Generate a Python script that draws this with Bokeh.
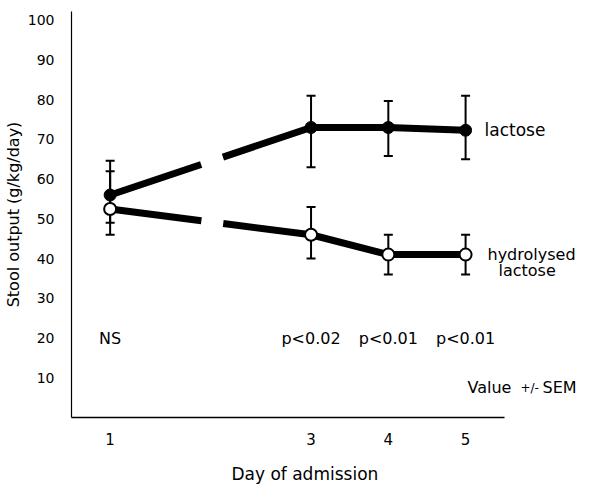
from bokeh.plotting import figure
from bokeh.models import FactorRange, Range1d, ColumnDataSource, Whisker, TeeHead, Label
from bokeh.core.properties import value
from bokeh.embed import file_html
from bokeh.resources import INLINE

# ---- data ----
days = ["1", "3", "4", "5"]
phase = ["admission", "later", "later", "later"]   # axis break between day 1 and day 3
lactose = [56.0, 73.0, 73.0, 72.3]
lactose_lo = [49.0, 63.0, 65.8, 65.0]
lactose_hi = [62.0, 81.0, 79.7, 81.0]
hydrolysed = [52.5, 46.0, 41.0, 41.0]
hydrolysed_lo = [46.0, 40.0, 36.0, 36.0]
hydrolysed_hi = [64.6, 53.0, 46.0, 46.0]
significance = ["NS", "p<0.02", "p<0.01", "p<0.01"]
y_ticks = [10, 20, 30, 40, 50, 60, 70, 80, 90, 100]

FONT = "DejaVu Sans"
x = list(zip(phase, days))
# an empty trailing slot gives room inside the frame for the right-hand labels
factors = x + [("later", "")]

p = figure(width=589, height=486,
           x_range=FactorRange(factors=factors, group_padding=1.6, range_padding=0),
           y_range=Range1d(0, 102.2),
           output_backend="svg", toolbar_location=None,
           min_border_left=63, min_border_right=8, min_border_top=11, min_border_bottom=64)
p.xgrid.grid_line_color = None
p.ygrid.grid_line_color = None
p.outline_line_color = None
p.background_fill_color = "white"
p.border_fill_color = "white"

# axes
p.yaxis.ticker = y_ticks
p.yaxis.minor_tick_line_color = None
p.yaxis.major_tick_line_color = None
p.yaxis.major_tick_out = 0
p.yaxis.major_tick_in = 0
p.yaxis.major_label_standoff = 17
p.yaxis.major_label_text_font = FONT
p.yaxis.major_label_text_font_size = "14px"
p.yaxis.major_label_text_color = "black"
p.yaxis.axis_line_color = "black"
p.yaxis.axis_line_width = 1.2
p.yaxis.axis_label = "Stool output (g/kg/day)"
p.yaxis.axis_label_text_font = FONT
p.yaxis.axis_label_text_font_size = "16px"
p.yaxis.axis_label_text_font_style = "normal"
p.yaxis.axis_label_text_color = "black"
p.yaxis.axis_label_standoff = 2

p.xaxis.bounds = (0, 5.6)           # axis line stops just past day 5
p.xaxis.major_tick_line_color = None
p.xaxis.major_tick_out = 0
p.xaxis.major_tick_in = 0
p.xaxis.major_label_standoff = 15
p.xaxis.major_label_text_font = FONT
p.xaxis.major_label_text_font_size = "15px"
p.xaxis.major_label_text_color = "black"
p.xaxis.group_text_font_size = "0px"
p.xaxis.group_text_color = None
p.xaxis.separator_line_color = None
p.xaxis.axis_line_color = "black"
p.xaxis.axis_line_width = 1.5
# trailing no-break spaces move the centred title left, under the drawn axis line
p.xaxis.axis_label = "Day of admission" + "\u00a0" * 8
p.xaxis.axis_label_text_font = FONT
p.xaxis.axis_label_text_font_size = "17px"
p.xaxis.axis_label_text_font_style = "normal"
p.xaxis.axis_label_text_color = "black"
p.xaxis.axis_label_standoff = 16

src = ColumnDataSource(dict(x=x, lac=lactose, lac_lo=lactose_lo, lac_hi=lactose_hi,
                            hyd=hydrolysed, hyd_lo=hydrolysed_lo, hyd_hi=hydrolysed_hi,
                            sig=significance))

# error bars (under the lines and markers)
for lo, hi in (("lac_lo", "lac_hi"), ("hyd_lo", "hyd_hi")):
    w = Whisker(base="x", lower=lo, upper=hi, source=src, dimension="height",
                line_width=2, line_color="black", level="underlay",
                upper_head=TeeHead(size=9, line_width=2, line_color="black"),
                lower_head=TeeHead(size=9, line_width=2, line_color="black"))
    p.add_layout(w)

# broken segment from day 1 to day 3, solid afterwards
p.line(x=x[:2], y=lactose[:2], line_width=7, line_color="black", line_dash="96 23 400")
p.line(x=x[:2], y=hydrolysed[:2], line_width=7, line_color="black", line_dash="92 22 400")
p.line(x=x[1:], y=lactose[1:], line_width=7, line_color="black", line_join="round")
p.line(x=x[1:], y=hydrolysed[1:], line_width=7, line_color="black", line_join="round")

p.scatter(x="x", y="lac", source=src, marker="circle", size=12,
          fill_color="black", line_color="black", line_width=1)
p.scatter(x="x", y="hyd", source=src, marker="circle", size=12,
          fill_color="white", line_color="black", line_width=2)

# significance row (one label per day)
sig_row = 20
p.text(x="x", y=sig_row, text="sig", source=src, text_align="center",
       text_baseline="middle", text_font=value(FONT), text_font_size="16px",
       text_color="black")


def add_label(xs, yv, text, size, y_offset=0):
    # horizontal placement in screen pixels from the frame's left edge, vertical in data units
    p.add_layout(Label(x=xs, y=yv, x_units="screen", y_units="data", text=text,
                       y_offset=y_offset, text_align="left", text_baseline="middle",
                       text_font=FONT, text_font_size=size, text_color="black"))


# series labels, level with the last point of each series
add_label(413, lactose[-1], "lactose", "17px")
add_label(416, hydrolysed[-1], "hydrolysed", "16px")
add_label(427, hydrolysed[-1], "lactose", "16px", y_offset=-16)

# note
sem_row = 7.5
add_label(396, sem_row, "Value", "16px")
add_label(449, sem_row, "+/-", "12px")
add_label(471, sem_row, "SEM", "16px")

open("out.html", "w").write(file_html(p, INLINE))
